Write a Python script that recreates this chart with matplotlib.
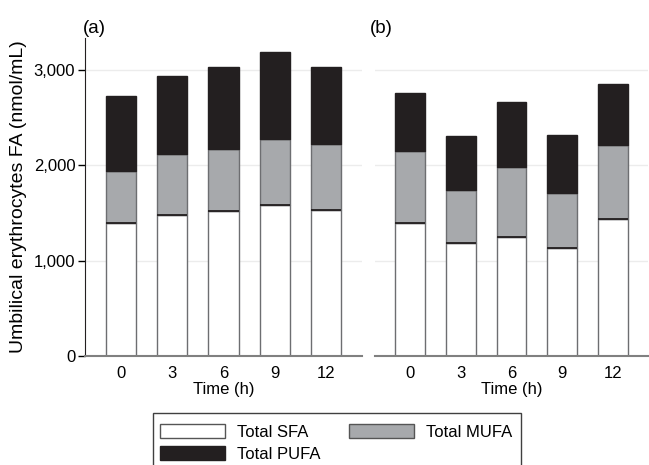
import numpy as np
import matplotlib.pyplot as plt
from matplotlib.patches import Rectangle, Patch

plt.rcParams['font.family'] = ['Liberation Sans', 'DejaVu Sans']

times = ["0", "3", "6", "9", "12"]

# panel (a)
sfa_a = [1388, 1478, 1520, 1580, 1530]
mufa_a = [550, 635, 648, 693, 695]
pufa_a = [789, 823, 862, 907, 805]

# panel (b)
sfa_b = [1395, 1185, 1245, 1133, 1437]
mufa_b = [750, 552, 732, 570, 773]
pufa_b = [610, 568, 683, 612, 639]

c_sfa = "white"
c_mufa = "#a7a9ac"
c_pufa = "#231f20"
edge = "#6d6e71"

fig = plt.figure(figsize=(6.49, 4.65), dpi=100)
ax_a = fig.add_axes([85/649, 1-356/465, 277/649, 318/465])
ax_b = fig.add_axes([375/649, 1-356/465, 273/649, 318/465])


def draw_panel(ax, sfa, mufa, pufa):
    x = np.arange(len(times))
    sfa = np.array(sfa)
    mufa = np.array(mufa)
    pufa = np.array(pufa)
    w = 0.59
    ax.bar(x, sfa, w, color=c_sfa, edgecolor=edge, lw=1, zorder=3)
    ax.bar(x, mufa, w, bottom=sfa, color=c_mufa, edgecolor=edge, lw=1, zorder=3)
    ax.bar(x, pufa, w, bottom=sfa+mufa, color=c_pufa, edgecolor=c_pufa, lw=1, zorder=3)
    # dark line on top of SFA
    ax.hlines(sfa, x - w/2, x + w/2, color="#231f20", lw=1.3, zorder=4)
    ax.set_xlim(-0.7, 4.7)
    ax.set_ylim(0, 3330)
    ax.set_xticks(x)
    ax.set_xticklabels(times)
    ax.set_yticks([0, 1000, 2000, 3000])
    ax.yaxis.grid(True, color="#ececec", lw=1, zorder=0)
    ax.tick_params(axis="x", length=0, pad=7, labelsize=12)
    ax.tick_params(axis="y", length=5, width=1, labelsize=12, pad=2)
    for s in ["top", "right"]:
        ax.spines[s].set_visible(False)
    ax.spines["bottom"].set_color("#808080")
    ax.spines["bottom"].set_linewidth(1.5)
    ax.spines["bottom"].set_zorder(5)
    ax.set_xlabel("Time (h)", fontsize=12, labelpad=1)


draw_panel(ax_a, sfa_a, mufa_a, pufa_a)
draw_panel(ax_b, sfa_b, mufa_b, pufa_b)

ax_a.set_yticklabels(["0", "1,000", "2,000", "3,000"])
ax_a.set_ylabel("Umbilical erythrocytes FA (nmol/mL)", fontsize=14, labelpad=5)
ax_a.spines["left"].set_color("#231f20")

ax_b.spines["left"].set_visible(False)
ax_b.tick_params(axis="y", left=False, labelleft=False)

fig.text(83/649, 1-33/465, "(a)", fontsize=13.5)
fig.text(370/649, 1-33/465, "(b)", fontsize=13.5)

# legend frame running off the bottom edge
fig.patches.append(Rectangle((153/649, -0.05), 368/649, 0.05 + 1-413/465,
                             transform=fig.transFigure, fill=False,
                             edgecolor="#404040", lw=1))

handles = [Patch(facecolor=c_sfa, edgecolor="#555555", label="Total SFA"),
           Patch(facecolor=c_pufa, edgecolor=c_pufa, label="Total PUFA"),
           Patch(facecolor=c_mufa, edgecolor="#555555", label="Total MUFA")]
fig.legend(handles=handles, ncol=2, loc="upper left",
           bbox_to_anchor=(152/649, 1-416/465), frameon=False, fontsize=12,
           handlelength=3.9, handleheight=0.9, handletextpad=0.7,
           columnspacing=1.7, labelspacing=0.35, borderpad=0.0)

fig.savefig("out.png", dpi=100)
